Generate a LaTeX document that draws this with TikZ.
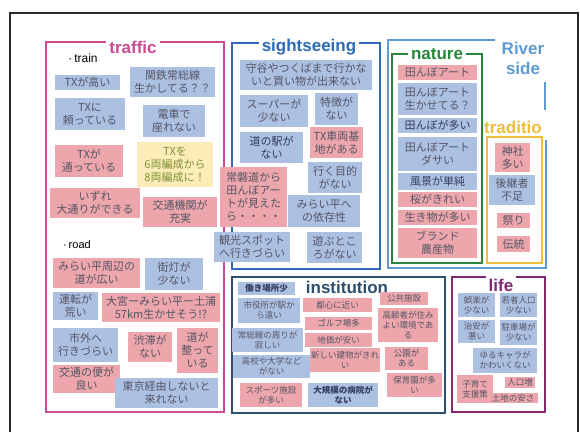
\documentclass[tikz,border=0pt]{standalone}
\usepackage{fontspec}
\setmainfont{Liberation Sans}
\newfontfamily\jp{Noto Sans CJK JP}
\definecolor{stickyblue}{RGB}{172,192,226}
\definecolor{stickyred}{RGB}{236,166,172}
\definecolor{stickyyellow}{RGB}{252,236,184}
\definecolor{notetext}{RGB}{85,85,100}
\definecolor{notedark}{RGB}{50,60,95}
\definecolor{yellowtext}{RGB}{125,145,55}
\definecolor{trafficpink}{RGB}{200,76,150}
\definecolor{sightblue}{RGB}{45,108,180}
\definecolor{naturegreen}{RGB}{40,135,60}
\definecolor{riverblue}{RGB}{95,155,210}
\definecolor{tradyellow}{RGB}{240,190,60}
\definecolor{instnavy}{RGB}{45,80,110}
\definecolor{lifeplum}{RGB}{130,40,110}
\definecolor{framegray}{RGB}{40,40,40}

\begin{document}
\begin{tikzpicture}[x=1pt, y=-1pt,
  note/.style={inner sep=0pt, align=center, text=notetext, font=\jp\fontsize{11}{13}\selectfont},
  smallnote/.style={font=\jp\fontsize{8.5}{10}\selectfont},
  bnote/.style={note, fill=stickyblue},
  rnote/.style={note, fill=stickyred},
  ynote/.style={note, fill=stickyyellow, text=yellowtext},
  darktext/.style={text=notedark},
  grouptitle/.style={fill=white, inner sep=3pt, align=center, font=\bfseries\fontsize{17}{20}\selectfont},
  groupbox/.style={line width=1.6pt}]
\useasboundingbox (0,0) rectangle (580,432);
\fill[white] (0,0) rectangle (580,432);

% sheet
\draw[framegray, line width=1.3pt] (10,432) -- (10,13) -- (578,13) -- (578,432);

% groups
\draw[groupbox, trafficpink] (46,42) rectangle (224,412);
\draw[groupbox, sightblue] (232,43) rectangle (380,269);
\draw[groupbox, instnavy] (232,277) rectangle (445,413);
\draw[groupbox, lifeplum] (452,277) rectangle (545,412);
\draw[groupbox, riverblue] (495,40) -- (388,40) -- (388,268) -- (546,268) -- (546,140);
\draw[groupbox, riverblue] (545,82) -- (545,110);
\draw[groupbox, naturegreen] (392,54) rectangle (482,263);
\draw[groupbox, tradyellow] (487,137) rectangle (542,263);

% group titles
\node[grouptitle, text=trafficpink] (traffic) at (133,47) {traffic};
\node[grouptitle, text=sightblue] (sight) at (309,47) {sightseeing};
\node[grouptitle, text=naturegreen] (nature) at (437,54) {nature};
\node[grouptitle, text=instnavy] (inst) at (347,287) {institution};
\node[grouptitle, text=lifeplum] (life) at (501,285) {life};
\node[grouptitle, fill=none, text=riverblue] (river) at (523,58) {River\\side};
\node[grouptitle, fill=none, text=tradyellow] (trad) at (513,127) {traditio};
\node[font=\fontsize{12}{12}\selectfont] (train) at (83,58) {·\,train};
\node[font=\fontsize{11}{11}\selectfont] (road) at (77,245) {·\,road};

% traffic: train
\node[bnote, minimum width=65, minimum height=15] (t1) at (87.5,82.5) {TXが高い};
\node[bnote, minimum width=85, minimum height=30] (t2) at (172.5,82) {関鉄常総線\\生かしてる？？};
\node[bnote, minimum width=70, minimum height=32] (t3) at (90,114) {TXに\\頼っている};
\node[bnote, minimum width=62, minimum height=32] (t4) at (174,121) {電車で\\座れない};
\node[rnote, minimum width=68, minimum height=32] (t5) at (89,161) {TXが\\通っている};
\node[ynote, minimum width=76, minimum height=45] (t6) at (175,164.5) {TXを\\6両編成から\\8両編成に！};
\node[rnote, minimum width=90, minimum height=30] (t7) at (95,203) {いずれ\\大通りができる};
\node[rnote, minimum width=74, minimum height=30] (t8) at (180,212) {交通機関が\\充実};

% traffic: road
\node[rnote, minimum width=87, minimum height=30] (r1) at (96.5,273) {みらい平周辺の\\道が広い};
\node[bnote, minimum width=58, minimum height=32] (r2) at (174,274) {街灯が\\少ない};
\node[bnote, minimum width=45, minimum height=28] (r3) at (75.5,306) {運転が\\荒い};
\node[rnote, minimum width=118, minimum height=29] (r4) at (161,307.5) {大宮ーみらい平ー土浦\\57km生かせそう!?};
\node[bnote, minimum width=65, minimum height=34] (r5) at (85.5,345) {市外へ\\行きづらい};
\node[rnote, minimum width=44, minimum height=30] (r6) at (150,347) {渋滞が\\ない};
\node[rnote, minimum width=41, minimum height=45] (r7) at (197.5,350.5) {道が\\整って\\いる};
\node[rnote, minimum width=67, minimum height=28] (r8) at (86.5,379) {交通の便が\\良い};
\node[bnote, minimum width=103, minimum height=30] (r9) at (166.5,393) {東京経由しないと\\来れない};

% sightseeing
\node[bnote, minimum width=132, minimum height=30] (s1) at (306,75) {守谷やつくばまで行かな\\いと買い物が出来ない};
\node[bnote, minimum width=68, minimum height=32] (s2) at (274,111) {スーパーが\\少ない};
\node[bnote, minimum width=43, minimum height=32] (s3) at (336.5,109) {特徴が\\ない};
\node[bnote, darktext, minimum width=63, minimum height=31] (s4) at (271.5,147.5) {道の駅が\\ない};
\node[rnote, minimum width=53, minimum height=31] (s5) at (336.5,142.5) {TX車両基\\地がある};
\node[bnote, minimum width=54, minimum height=31] (s6) at (335,177.5) {行く目的\\がない};
\node[rnote, minimum width=67, minimum height=60] (s7) at (253.5,197) {常磐道から\\田んぼアー\\トが見えた\\ら・・・・};
\node[bnote, minimum width=72, minimum height=32] (s8) at (324,211) {みらい平へ\\の依存性};
\node[bnote, minimum width=76, minimum height=30] (s9) at (252,247) {観光スポット\\へ行きづらい};
\node[bnote, minimum width=55, minimum height=31] (s10) at (334.5,247.5) {遊ぶとこ\\ろがない};

% nature
\node[rnote, minimum width=79, minimum height=15] (n1) at (437.5,72.5) {田んぼアート};
\node[bnote, minimum width=79, minimum height=32] (n2) at (437.5,99) {田んぼアート\\生かせてる？};
\node[bnote, darktext, minimum width=79, minimum height=15] (n3) at (437.5,125.5) {田んぼが多い};
\node[bnote, minimum width=79, minimum height=34] (n4) at (437.5,154) {田んぼアート\\ダサい};
\node[bnote, darktext, minimum width=79, minimum height=17] (n5) at (437.5,181.5) {風景が単純};
\node[rnote, minimum width=79, minimum height=15] (n6) at (437.5,199.5) {桜がきれい};
\node[rnote, minimum width=79, minimum height=15] (n7) at (437.5,217.5) {生き物が多い};
\node[rnote, minimum width=79, minimum height=30] (n8) at (437.5,243) {ブランド\\農産物};

% tradition
\node[rnote, minimum width=35, minimum height=29] (d1) at (512.5,157.5) {神社\\多い};
\node[bnote, minimum width=46, minimum height=30] (d2) at (512,190) {後継者\\不足};
\node[rnote, minimum width=33, minimum height=15] (d3) at (513.5,220.5) {祭り};
\node[rnote, minimum width=33, minimum height=16] (d4) at (513.5,244) {伝統};

% institution
\node[bnote, smallnote, darktext, minimum width=57, minimum height=13] (i1) at (266.5,288.5) {\bfseries 働き場所少};
\node[bnote, smallnote, minimum width=62, minimum height=25] (i2) at (269,310.5) {市役所が駅か\\ら遠い};
\node[bnote, smallnote, minimum width=71, minimum height=24] (i3) at (267.5,340) {常総線の周りが\\寂しい};
\node[bnote, smallnote, minimum width=77, minimum height=23] (i4) at (271.5,366.5) {高校や大学など\\がない};
\node[rnote, smallnote, minimum width=62, minimum height=24] (i5) at (271,395) {スポーツ施設\\が多い};
\node[bnote, smallnote, darktext, minimum width=70, minimum height=24] (i6) at (343,395) {\bfseries 大規模の病院が\\\bfseries ない};
\node[rnote, smallnote, minimum width=69, minimum height=14] (i7) at (337.5,305) {都心に近い};
\node[rnote, smallnote, minimum width=67, minimum height=13] (i8) at (338.5,323.5) {ゴルフ場多};
\node[rnote, smallnote, minimum width=67, minimum height=14] (i9) at (338.5,340) {地価が安い};
\node[rnote, smallnote, minimum width=70, minimum height=24] (i10) at (345,360) {新しい建物がきれ\\い};
\node[rnote, smallnote, minimum width=48, minimum height=13] (i11) at (404,298.5) {公共施設};
\node[rnote, smallnote, minimum width=60, minimum height=34] (i12) at (408,325) {高齢者が住み\\よい環境であ\\る};
\node[rnote, smallnote, minimum width=43, minimum height=23] (i13) at (406.5,358.5) {公園が\\ある};
\node[rnote, smallnote, minimum width=55, minimum height=24] (i14) at (414.5,385) {保育園が多\\い};

% life
\node[bnote, smallnote, minimum width=37, minimum height=24] (l1) at (476.5,305) {娯楽が\\少ない};
\node[bnote, smallnote, minimum width=37, minimum height=24] (l2) at (518.5,305) {若者人口\\少ない};
\node[bnote, smallnote, minimum width=37, minimum height=23] (l3) at (476.5,331.5) {治安が\\悪い};
\node[bnote, smallnote, minimum width=37, minimum height=25] (l4) at (518.5,332.5) {駐車場が\\少ない};
\node[bnote, smallnote, minimum width=64, minimum height=25] (l5) at (505,360.5) {ゆるキャラが\\かわいくない};
\node[rnote, smallnote, minimum width=36, minimum height=28] (l6) at (475,389) {子育て\\支援策};
\node[rnote, smallnote, minimum width=30, minimum height=11] (l7) at (520,382.5) {人口増};
\node[rnote, smallnote, minimum width=50, minimum height=10] (l8) at (513,398) {土地の安さ};
\end{tikzpicture}
\end{document}
